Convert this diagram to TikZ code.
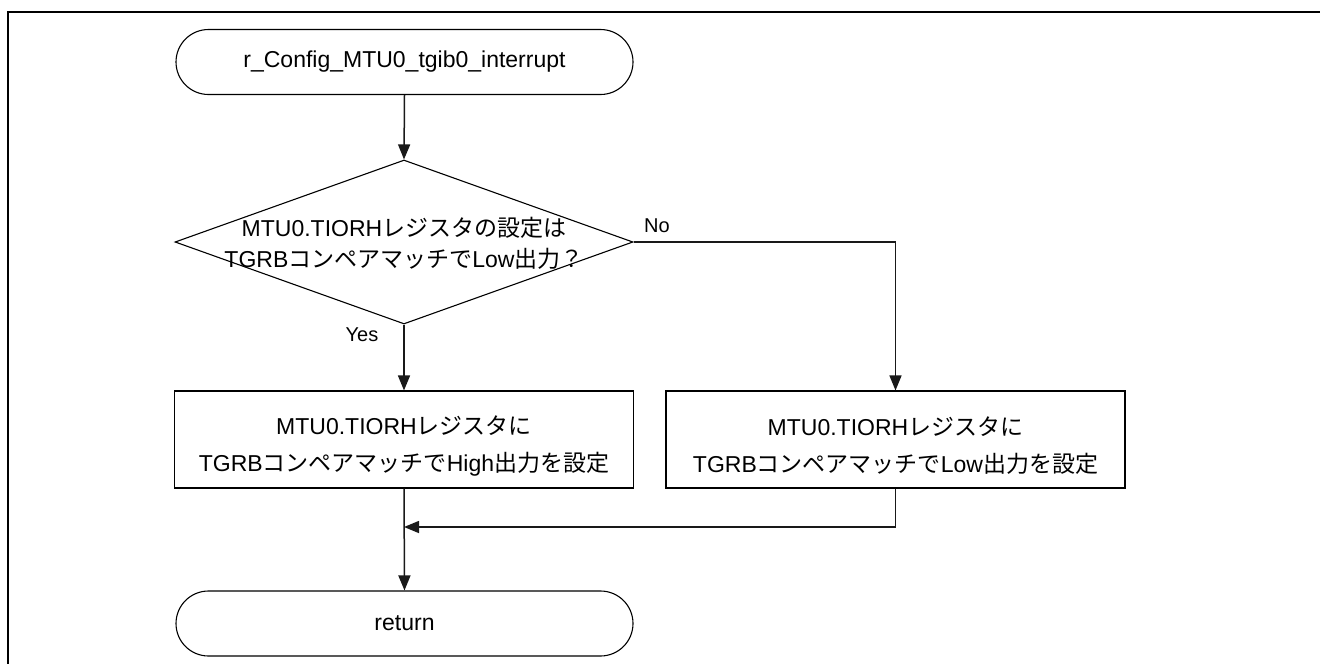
\documentclass[tikz,border=0pt]{standalone}
\usepackage{fontspec}
\setmainfont{Liberation Sans}
\newfontfamily\jp{Noto Sans CJK JP}
\usetikzlibrary{arrows.meta,shapes.geometric,shapes.misc}
\tikzset{
  base/.style={draw=black, line width=1.1pt, text=black, font=\fontsize{23}{37}\selectfont, inner sep=0pt, align=center},
  term/.style={base, rounded rectangle, minimum width=457pt, minimum height=65pt},
  procbox/.style={base, rectangle, minimum width=459pt, minimum height=97pt},
  decision/.style={base, diamond, minimum width=458pt, minimum height=164pt, font=\fontsize{23}{31}\selectfont},
  conn/.style={line width=1.5pt, draw=black!90, -{Triangle[length=15pt,width=12pt]}},
  plain/.style={line width=1.5pt, draw=black!90},
  lbl/.style={font=\fontsize{20}{24}\selectfont, inner sep=0pt},
  frame/.style={line width=2.6pt, draw=black}
}
\begin{document}
\begin{tikzpicture}[x=1pt,y=-1pt]
\useasboundingbox (0,0) rectangle (1320,664);
\draw[frame] (8,680) -- (8,12) -- (1330,12);
\node[term] (start) at (404.5,62) {r\_Config\_MTU0\_tgib0\_interrupt};
\node[decision] (dec) at (404,242) {};
\node[font=\fontsize{23}{31}\selectfont, align=center, inner sep=0pt] (dectext) at (404,243) {MTU0.TIORH{\jp レジスタの設定は}\\TGRB{\jp コンペアマッチで}Low{\jp 出力？}};
\node[procbox] (high) at (404,439.5) {};
\node[font=\fontsize{23}{37}\selectfont, align=center, inner sep=0pt] (hightext) at (404,446) {MTU0.TIORH{\jp レジスタに}\\TGRB{\jp コンペアマッチで}High{\jp 出力を設定}};
\node[procbox] (low) at (895.5,439.5) {};
\node[font=\fontsize{23}{37}\selectfont, align=center, inner sep=0pt] (lowtext) at (895.5,446) {MTU0.TIORH{\jp レジスタに}\\TGRB{\jp コンペアマッチで}Low{\jp 出力を設定}};
\node[term] (ret) at (404.5,623.5) {return};
\coordinate (noturn) at (895.5,242);
\coordinate (mergeR) at (895.5,527);
\coordinate (mergeL) at (404,527);
\draw[conn] (start.south) -- (dec.north);
\draw[conn] (dec.south) -- (high.north);
\draw[plain] (dec.east) -- (noturn);
\draw[conn] (noturn) -- (low.north);
\draw[plain] (low.south) -- (mergeR);
\draw[conn] (mergeR) -- (mergeL);
\draw[conn] (high.south) -- (ret.north);
\node[lbl] (nolbl) at (657,226) {No};
\node[lbl] (yeslbl) at (362,335) {Yes};
\end{tikzpicture}
\end{document}
